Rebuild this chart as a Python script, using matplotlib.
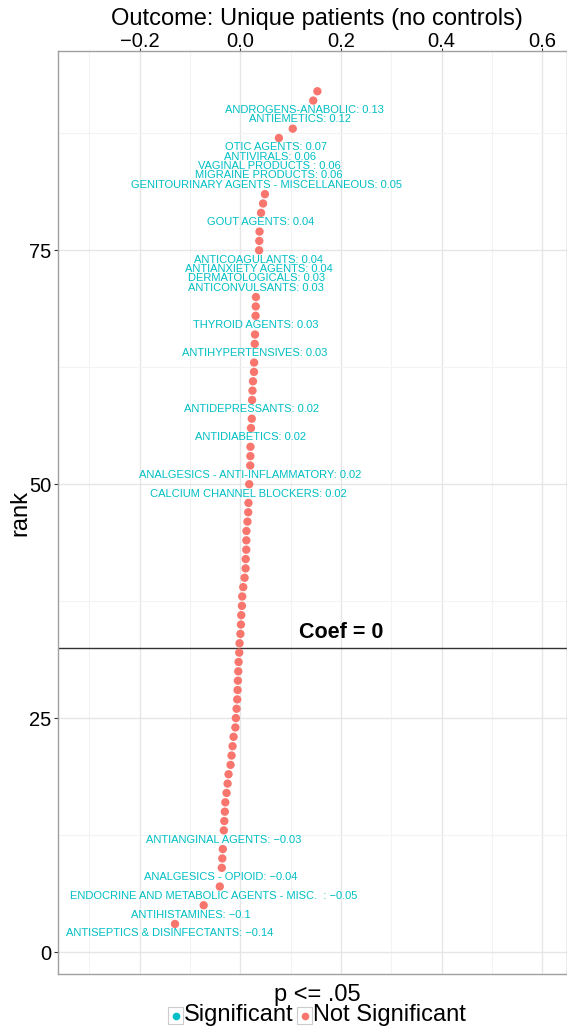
import matplotlib
matplotlib.use("Agg")
import matplotlib.pyplot as plt
from matplotlib.lines import Line2D
from matplotlib.patches import Rectangle

plt.rcParams['font.family'] = ['Liberation Sans', 'DejaVu Sans']

# ---------------- data ----------------
rank = [2, 3, 4, 5, 6, 7, 8, 9, 10, 11, 12, 13, 14, 15, 16, 17, 18, 19, 20, 21,
        22, 23, 24, 25, 26, 27, 28, 29, 30, 31, 32, 33, 34, 35, 36, 37, 38, 39, 40,
        41, 42, 43, 44, 45, 46, 47, 48, 49, 50, 51, 52, 53, 54, 55, 56, 57, 58, 59,
        60, 61, 62, 63, 64, 65, 66, 67, 68, 69, 70, 71, 72, 73, 74, 75, 76, 77, 78,
        79, 80, 81, 82, 83, 84, 85, 86, 87, 88, 89, 90, 91, 92]
coef = [-0.140, -0.130, -0.098, -0.073, -0.053, -0.041, -0.039, -0.037, -0.036, -0.035,
        -0.034, -0.033, -0.032, -0.031, -0.030, -0.0275, -0.0255, -0.0236, -0.0196, -0.0176,
        -0.0156, -0.0136, -0.010, -0.009, -0.0076, -0.0063, -0.0056, -0.005, -0.0043, -0.0036,
        -0.0023, -0.0017, 0.000, 0.001, 0.0017, 0.003, 0.0036, 0.0056, 0.0083, 0.0103,
        0.0105, 0.0116, 0.0118, 0.012, 0.014, 0.0155, 0.016, 0.0166, 0.0175, 0.019,
        0.0195, 0.0198, 0.020, 0.0205, 0.021, 0.0225, 0.023, 0.0232, 0.024, 0.025,
        0.027, 0.0272, 0.0278, 0.0285, 0.029, 0.030, 0.0302, 0.0305, 0.0308, 0.031,
        0.032, 0.036, 0.0367, 0.0372, 0.0375, 0.038, 0.040, 0.041, 0.045, 0.0487,
        0.052, 0.056, 0.057, 0.059, 0.071, 0.0765, 0.104, 0.118, 0.127, 0.1447, 0.153]

# significant classes (labelled) : rank -> drug class name
sig_rank = [2, 4, 6, 8, 12, 49, 51, 55, 58, 64, 67, 71, 72, 73, 74, 78, 82, 83, 84, 85, 86, 89, 90]
sig_name = ["ANTISEPTICS & DISINFECTANTS", "ANTIHISTAMINES",
            "ENDOCRINE AND METABOLIC AGENTS - MISC.  ", "ANALGESICS - OPIOID",
            "ANTIANGINAL AGENTS", "CALCIUM CHANNEL BLOCKERS",
            "ANALGESICS - ANTI-INFLAMMATORY", "ANTIDIABETICS", "ANTIDEPRESSANTS",
            "ANTIHYPERTENSIVES", "THYROID AGENTS", "ANTICONVULSANTS", "DERMATOLOGICALS",
            "ANTIANXIETY AGENTS", "ANTICOAGULANTS", "GOUT AGENTS",
            "GENITOURINARY AGENTS - MISCELLANEOUS", "MIGRAINE PRODUCTS",
            "VAGINAL PRODUCTS ", "ANTIVIRALS", "OTIC AGENTS", "ANTIEMETICS",
            "ANDROGENS-ANABOLIC"]

zero_rank = 32.5
x_ticks = [-0.2, 0.0, 0.2, 0.4, 0.6]
y_ticks = [0, 25, 50, 75]

SIG_COL = "#00BFC4"
NS_COL = "#F8766D"
W, H = 567, 1032

# ---------------- figure ----------------
fig = plt.figure(figsize=(5.67, 10.32), dpi=100)
ax = fig.add_axes([58 / W, 1 - 974 / H, 1 - 58 / W, (974 - 51) / H])

ax.set_xlim(-0.3625, 0.649)
ax.set_ylim(-2.35, 96.3)

ax.set_xticks(x_ticks)
ax.set_xticks([-0.3, -0.1, 0.1, 0.3, 0.5], minor=True)
ax.set_yticks(y_ticks)
ax.set_yticks([12.5, 37.5, 62.5, 87.5], minor=True)
ax.grid(which='major', color='#E6E6E6', linewidth=1.0)
ax.grid(which='minor', color='#F3F3F3', linewidth=0.8)
ax.set_axisbelow(True)

ax.xaxis.tick_top()
ax.tick_params(axis='x', which='major', top=True, bottom=False, length=2.5,
               color='#333333', labelsize=14.5, pad=-2.5)
ax.tick_params(axis='y', which='major', left=True, length=3, color='#333333',
               labelsize=14.5, pad=2)
ax.tick_params(which='minor', length=0)
ax.set_xticklabels([f"{t:.1f}".replace('-', '\u2212') for t in x_ticks])

# axis titles
fig.text(317 / W, 1 - 19 / H, "Outcome: Unique patients (no controls)",
         fontsize=17, ha='center', va='center')
fig.text(20 / W, 1 - 513 / H, "rank", fontsize=17, rotation=90, ha='center', va='center')

for s in ax.spines.values():
    s.set_color('#A0A0A0')
    s.set_linewidth(1.0)

# non-significant points
sig_set = set(sig_rank)
ns_x = [c for r, c in zip(rank, coef) if r not in sig_set]
ns_y = [r for r in rank if r not in sig_set]
ax.scatter(ns_x, ns_y, s=36, color=NS_COL, edgecolors='none', zorder=3)

# significant labels
coef_by_rank = dict(zip(rank, coef))
for r, name in zip(sig_rank, sig_name):
    c = coef_by_rank[r]
    val = f"{round(c, 2):g}".replace('-', '\u2212')
    ax.text(c, r, f"{name}: {val}", color=SIG_COL, fontsize=8.0,
            ha='center', va='center', zorder=4)

# coef = 0 line
ax.axhline(zero_rank, color='#333333', linewidth=1.0, zorder=2)
ax.text(0.2, zero_rank + 0.5, "Coef = 0", fontsize=15.5, fontweight='bold',
        ha='center', va='bottom', color='black', zorder=5)

# ---------------- legend ----------------
fig.text(317 / W, 1 - 995 / H, "p <= .05", fontsize=17, ha='center', va='center')
for (bx, col, label) in [(168, SIG_COL, "Significant"), (297, NS_COL, "Not Significant")]:
    fig.patches.append(Rectangle((bx / W, 1 - 1024 / H), 15 / W, 17 / H,
                                 transform=fig.transFigure, facecolor='white',
                                 edgecolor='#CCCCCC', linewidth=0.8))
    fig.lines.append(Line2D([(bx + 7.5) / W], [1 - 1015.5 / H], transform=fig.transFigure,
                            marker='o', markersize=5.5, color=col, markeredgewidth=0))
    fig.text((bx + 16) / W, 1 - 1015.5 / H, label, fontsize=17, ha='left', va='center')

fig.savefig("out.png", dpi=100)
